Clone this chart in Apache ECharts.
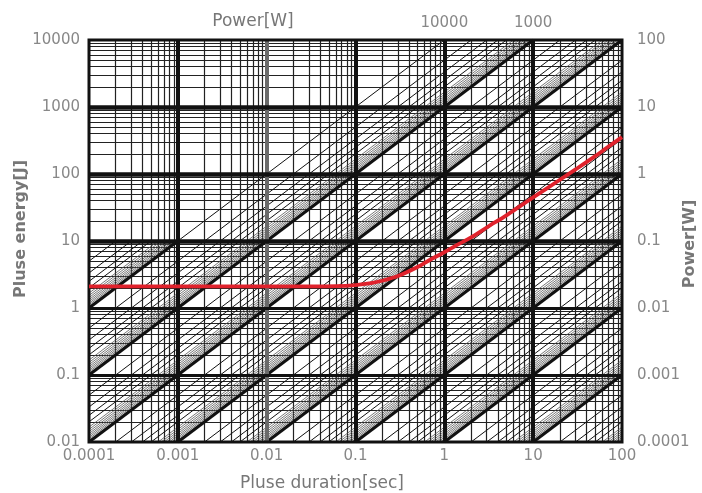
<!DOCTYPE html>
<html><head><meta charset="utf-8">
<script src="https://cdn.jsdelivr.net/npm/echarts@6/dist/echarts.min.js"></script>
<style>html,body{margin:0;padding:0;background:#fff}#c{width:702px;height:493px}</style>
</head><body><div id="c"></div>
<script>
// ---- data ----
const durationRange = [0.0001, 100];
const energyRange = [0.01, 10000];
const xTickLabels = ['0.0001', '0.001', '0.01', '0.1', '1', '10', '100'];
const yTickLabels = ['0.01', '0.1', '1', '10', '100', '1000', '10000'];
const rightTickLabels = ['0.0001', '0.001', '0.01', '0.1', '1', '10', '100'];
const topPowerTickDurations = [1, 10];
const topPowerTickLabels = ['10000', '1000'];
const gridMultipliers = [2, 3, 4, 5, 6, 7, 8, 9];
const durationDecades = [0.0001, 0.001, 0.01, 0.1, 1, 10];
const energyDecades = [0.01, 0.1, 1, 10, 100, 1000];
const powerDecades = [0.0001, 0.001, 0.01, 0.1, 1, 10, 100, 1000, 10000];
const fanDivisors = [9.5, 9, 8.5, 8, 7.5, 7, 6.5, 6];
const thinDivisors = [5, 4, 3, 2];
const powerLimit = 10000;      // above fullHatchEnergy only lines with P <= powerLimit
const fullHatchEnergy = 10;
const curveDuration = [0.0001, 0.001, 0.01, 0.03, 0.06, 0.1, 0.15, 0.2, 0.3, 0.5, 0.7, 1, 1.5, 2, 3, 5, 7, 10, 20, 30, 50, 70, 100];
const curveEnergy   = [2.1, 2.1, 2.1, 2.1, 2.12, 2.2, 2.35, 2.55, 3.0, 4.1, 5.3, 6.8, 9.2, 11.3, 15.9, 24.2, 32.6, 44.7, 82, 117, 185, 255, 355];

// ---- build ----
const tMin = durationRange[0], tMax = durationRange[1];
const eMin = energyRange[0], eMax = energyRange[1];
function seg(P, e0, e1) {
  const tA = Math.max(tMin, e0 / P), tB = Math.min(tMax, e1 / P);
  if (!(tB > tA * 1.0001)) return null;
  return { coords: [[tA, P * tA], [tB, P * tB]] };
}
const thickDiag = [], thinDiag = [], fanDiag = [];
powerDecades.forEach(base => {
  if (base < powerLimit) { const s = seg(base, eMin, eMax); if (s) thickDiag.push(s); }
  else {
    const a = seg(base, eMin, fullHatchEnergy); if (a) thickDiag.push(a);
    const b = seg(base, fullHatchEnergy, eMax); if (b) thinDiag.push(b);
  }
  const add = (arr, c) => {
    const P = base * 10 / c;
    const top = P > powerLimit ? fullHatchEnergy : eMax;
    const s = seg(P, eMin, top); if (s) arr.push(s);
  };
  fanDivisors.forEach(c => add(fanDiag, c));
  thinDivisors.forEach(c => add(thinDiag, c));
});
const minorV = [], minorH = [];
durationDecades.forEach(d => gridMultipliers.forEach(m => minorV.push({ coords: [[d * m, eMin], [d * m, eMax]] })));
energyDecades.forEach(d => gridMultipliers.forEach(m => minorH.push({ coords: [[tMin, d * m], [tMax, d * m]] })));
const majorV = durationDecades.slice(1).map(d => ({ coords: [[d, eMin], [d, eMax]],
  lineStyle: { color: Math.abs(Math.log10(d) + 2) < 0.01 ? '#6a6a6a' : '#111', width: 4 } }));
const majorH = energyDecades.slice(1).map(d => ({ coords: [[tMin, d], [tMax, d]],
  lineStyle: { color: '#111', width: d < 5 ? 3 : 4.5 } }));

const idx = (v, off) => Math.round(Math.log10(v)) + off;
const linesSeries = (data, style, z) => ({ type: 'lines', coordinateSystem: 'cartesian2d', xAxisIndex: 0, yAxisIndex: 0,
  polyline: false, silent: true, z: z, data: data, lineStyle: Object.assign({ opacity: 1 }, style) });

const chart = echarts.init(document.getElementById('c'), null, { renderer: 'canvas' });
chart.setOption({
  animation: false,
  backgroundColor: '#fff',
  grid: { left: 89, right: 80, top: 40, bottom: 51, show: true, borderColor: '#111', borderWidth: 3, z: 10 },
  xAxis: [
    { type: 'log', logBase: 10, min: tMin, max: tMax, position: 'bottom',
      axisLine: { show: false }, axisTick: { show: false }, splitLine: { show: false },
      axisLabel: { color: '#888', fontSize: 15, fontFamily: 'DejaVu Sans', margin: 7,
        formatter: v => xTickLabels[idx(v, 4)] || '' } },
    { type: 'log', logBase: 10, min: tMin, max: tMax, position: 'top',
      axisLine: { show: false }, axisTick: { show: false }, splitLine: { show: false },
      axisLabel: { color: '#888', fontSize: 15, fontFamily: 'DejaVu Sans', margin: 9,
        formatter: v => { const i = topPowerTickDurations.findIndex(t => Math.abs(Math.log10(t) - Math.log10(v)) < 0.01); return i >= 0 ? topPowerTickLabels[i] : ''; } } }
  ],
  yAxis: [
    { type: 'log', logBase: 10, min: eMin, max: eMax, position: 'left',
      axisLine: { show: false }, axisTick: { show: false }, splitLine: { show: false },
      axisLabel: { color: '#888', fontSize: 15, fontFamily: 'DejaVu Sans', margin: 9,
        formatter: v => yTickLabels[idx(v, 2)] || '' } },
    { type: 'log', logBase: 10, min: 0.0001, max: 100, position: 'right',
      axisLine: { show: false }, axisTick: { show: false }, splitLine: { show: false },
      axisLabel: { color: '#888', fontSize: 15, fontFamily: 'DejaVu Sans', margin: 15,
        formatter: v => rightTickLabels[idx(v, 4)] || '' } }
  ],
  graphic: [
    { type: 'text', x: 253, y: 22, style: { text: 'Power[W]', fill: '#777', font: '17px "DejaVu Sans"', align: 'center', verticalAlign: 'middle' } },
    { type: 'text', x: 21, y: 229, rotation: Math.PI / 2, style: { text: 'Pluse energy[J]', fill: '#777', font: 'bold 16px "DejaVu Sans"', align: 'center', verticalAlign: 'middle' } },
    { type: 'text', x: 690, y: 244, rotation: Math.PI / 2, style: { text: 'Power[W]', fill: '#777', font: 'bold 16px "DejaVu Sans"', align: 'center', verticalAlign: 'middle' } },
    { type: 'text', x: 322, y: 484, style: { text: 'Pluse duration[sec]', fill: '#777', font: '17px "DejaVu Sans"', align: 'center', verticalAlign: 'middle' } }
  ],
  series: [
    linesSeries(minorV, { color: '#222', width: 1.2 }, 1),
    linesSeries(minorH, { color: '#222', width: 1.2 }, 1),
    linesSeries(fanDiag, { color: '#555', width: 0.8 }, 2),
    linesSeries(thinDiag, { color: '#111', width: 1 }, 2),
    linesSeries(thickDiag, { color: '#111', width: 3 }, 3),
    linesSeries(majorV, { color: '#111', width: 4 }, 4),
    linesSeries(majorH, { color: '#111', width: 4 }, 4),
    { type: 'line', xAxisIndex: 0, yAxisIndex: 0, z: 20, smooth: 0.3, showSymbol: false, silent: true,
      data: curveDuration.map((t, i) => [t, curveEnergy[i]]),
      lineStyle: { color: '#e0222c', width: 3.8 } }
  ]
});
</script></body></html>
